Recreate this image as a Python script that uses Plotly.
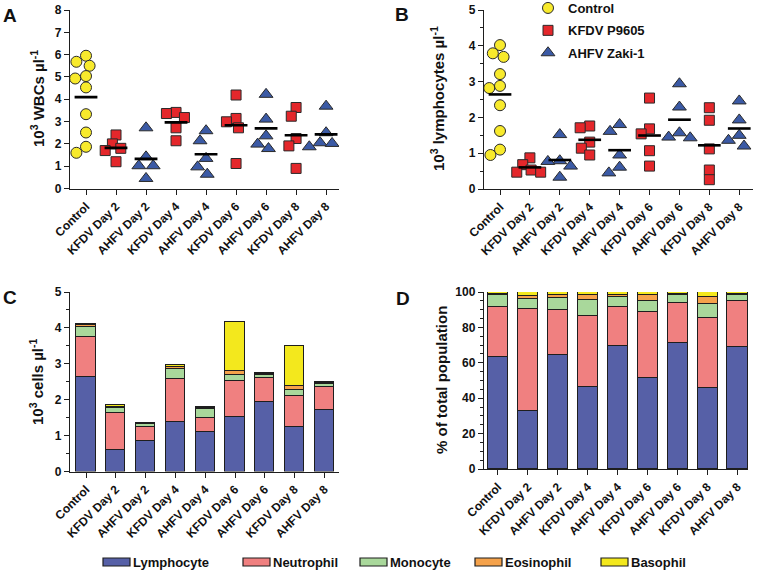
import numpy as np
import plotly.graph_objects as go

# ---------------- data ----------------
categories = ["Control", "KFDV Day 2", "AHFV Day 2", "KFDV Day 4", "AHFV Day 4",
              "KFDV Day 6", "AHFV Day 6", "KFDV Day 8", "AHFV Day 8"]
group_names = ["Control", "KFDV P9605", "AHFV Zaki-1"]
category_group = [0, 1, 2, 1, 2, 1, 2, 1, 2]

# Panel A: 10^3 WBCs per µl
wbc_values = [
    [5.95, 5.68, 5.50, 5.04, 4.93, 4.53, 3.33, 2.51, 1.87, 1.60],
    [2.40, 2.00, 1.80, 1.70, 1.20],
    [2.72, 1.42, 1.02, 1.02, 0.45],
    [3.41, 3.36, 3.18, 2.72, 2.14],
    [2.59, 2.14, 1.35, 0.97, 0.64],
    [4.19, 3.14, 2.99, 2.72, 1.12],
    [4.22, 3.11, 2.36, 1.99, 1.79],
    [3.63, 3.24, 2.24, 1.91, 0.90],
    [3.69, 2.50, 2.05, 2.02, 1.87],
]

# Panel B: 10^3 lymphocytes per µl
lym_values = [
    [4.02, 3.79, 3.69, 3.21, 2.88, 2.82, 2.34, 1.62, 1.10, 0.95],
    [0.87, 0.68, 0.53, 0.47, 0.47],
    [1.52, 0.79, 0.77, 0.64, 0.33],
    [1.76, 1.71, 1.31, 1.14, 0.95],
    [1.80, 1.61, 0.95, 0.61, 0.45],
    [2.54, 1.68, 1.54, 1.07, 0.64],
    [2.94, 2.29, 1.57, 1.45, 1.43],
    [2.27, 1.92, 1.12, 0.53, 0.26],
    [2.46, 1.93, 1.50, 1.36, 1.20],
]

# Panel C: mean cell counts (10^3 cells per µl)
cell_types = ["Lymphocyte", "Neutrophil", "Monocyte", "Eosinophil", "Basophil"]
counts_lymphocyte = [2.645, 0.60, 0.855, 1.39, 1.11, 1.51, 1.95, 1.23, 1.70]
counts_neutrophil = [1.115, 1.04, 0.395, 1.18, 0.37, 1.02, 0.65, 0.88, 0.65]
counts_monocyte = [0.26, 0.12, 0.07, 0.28, 0.26, 0.16, 0.09, 0.16, 0.08]
counts_eosinophil = [0.05, 0.05, 0.025, 0.07, 0.02, 0.12, 0.03, 0.10, 0.03]
counts_basophil = [0.05, 0.03, 0.015, 0.05, 0.03, 1.35, 0.03, 1.12, 0.03]

# Panel D: % of total population
pct_lymphocyte = [63.5, 33.0, 64.4, 46.1, 69.5, 51.6, 71.0, 45.6, 69.1]
pct_neutrophil = [28.0, 57.2, 25.4, 40.3, 21.8, 37.3, 22.6, 39.9, 26.0]
pct_monocyte = [6.8, 6.0, 6.6, 9.1, 5.7, 6.2, 4.7, 7.5, 3.2]
pct_eosinophil = [0.8, 1.7, 1.7, 2.8, 1.3, 3.2, 0.6, 4.0, 0.8]
pct_basophil = [0.9, 2.1, 1.9, 1.7, 1.7, 1.7, 1.1, 3.0, 0.9]

# ---------------- style ----------------
W, H = 758, 573
FONT = "Arial, Liberation Sans, sans-serif"
INK = "#1e1e1e"
group_colors = ["#F8EA2C", "#E4272B", "#3B5AA5"]
group_symbols = ["circle", "square", "triangle-up"]
group_sizes = [11, 10, 12]
cell_colors = ["#5660A7", "#F08080", "#A9D89B", "#F5A24B", "#F3E81D"]


def px_x(p):
    return p / W


def px_y(p):
    return 1 - p / H


def swarm(vals, px_per_unit, cat_px=30.0, diam=10.0, step=0.04):
    """Deterministic beeswarm offsets (category units) so markers don't overlap."""
    placed = []
    offs = []
    cands = [0.0]
    for k in range(1, 30):
        cands += [-k * step, k * step]
    for v in vals:
        for c in cands:
            ok = all(np.hypot((c - po) * cat_px, (v - pv) * px_per_unit) >= diam
                     for po, pv in placed)
            if ok:
                break
        placed.append((c, v))
        offs.append(c)
    return offs


fig = go.Figure()

panels = [
    dict(vals=wbc_values, xa="x", ya="y", ppu=178.5 / 8, legend=False),
    dict(vals=lym_values, xa="x2", ya="y2", ppu=179.0 / 5, legend=True),
]

for p in panels:
    shown = set()
    for ci, vals in enumerate(p["vals"]):
        g = category_group[ci]
        offs = swarm(vals, p["ppu"], diam=group_sizes[g] * 0.95)
        xs = [ci + o for o in offs]
        fig.add_trace(go.Scatter(
            x=xs, y=vals, mode="markers", xaxis=p["xa"], yaxis=p["ya"],
            name=group_names[g], legendgroup=group_names[g],
            showlegend=p["legend"] and g not in shown,
            marker=dict(symbol=group_symbols[g], size=group_sizes[g],
                        color=group_colors[g], line=dict(color="#2a2a2a", width=1)),
            hoverinfo="skip"))
        shown.add(g)
    # mean lines
    mx, my = [], []
    for ci, vals in enumerate(p["vals"]):
        m = float(np.mean(vals))
        mx += [ci - 0.38, ci + 0.38, None]
        my += [m, m, None]
    fig.add_trace(go.Scatter(x=mx, y=my, mode="lines", xaxis=p["xa"], yaxis=p["ya"],
                             line=dict(color="#000", width=2.6), showlegend=False,
                             hoverinfo="skip"))

count_series = [counts_lymphocyte, counts_neutrophil, counts_monocyte,
                counts_eosinophil, counts_basophil]
pct_series = [pct_lymphocyte, pct_neutrophil, pct_monocyte, pct_eosinophil, pct_basophil]
xcat = list(range(len(categories)))
for k, name in enumerate(cell_types):
    fig.add_trace(go.Bar(x=xcat, y=count_series[k], xaxis="x3", yaxis="y3", width=0.64,
                         marker=dict(color=cell_colors[k], line=dict(color=INK, width=1.2)),
                         name=name, showlegend=False, hoverinfo="skip"))
    fig.add_trace(go.Bar(x=xcat, y=pct_series[k], xaxis="x4", yaxis="y4", width=0.67,
                         marker=dict(color=cell_colors[k], line=dict(color=INK, width=1.2)),
                         name=name, showlegend=False, hoverinfo="skip"))

tickfont = dict(family=FONT, size=12, color="#111", weight="bold")
common_x = dict(showline=True, linecolor=INK, linewidth=1.4, ticks="outside", ticklen=5,
                tickwidth=1.4, tickcolor=INK, showgrid=False, zeroline=False,
                tickmode="array", tickvals=xcat, ticktext=categories, tickangle=-45,
                tickfont=tickfont, fixedrange=True, automargin=False)
common_y = dict(showline=True, linecolor=INK, linewidth=1.4, ticks="outside", ticklen=5,
                tickwidth=1.4, tickcolor=INK, showgrid=False, zeroline=False,
                tickfont=tickfont, fixedrange=True, automargin=False)

fig.update_layout(
    template="none",
    xaxis=dict(common_x, domain=[px_x(70), px_x(339)], range=[-0.533, 8.43], anchor="y"),
    yaxis=dict(common_y, domain=[px_y(188.5), px_y(10)], range=[0, 8], dtick=1, anchor="x"),
    xaxis2=dict(common_x, domain=[px_x(484), px_x(753)], range=[-0.535, 8.46], anchor="y2"),
    yaxis2=dict(common_y, domain=[px_y(189), px_y(10)], range=[0, 5], dtick=1, anchor="x2",
                minor=dict(dtick=0.5, ticklen=3, tickwidth=1.4, tickcolor=INK, ticks="outside")),
    xaxis3=dict(common_x, domain=[px_x(70), px_x(339)], range=[-0.537, 8.49], anchor="y3"),
    yaxis3=dict(common_y, domain=[px_y(471.5), px_y(292)], range=[0, 5], dtick=1, anchor="x3",
                minor=dict(dtick=0.5, ticklen=3, tickwidth=1.4, tickcolor=INK, ticks="outside")),
    xaxis4=dict(common_x, domain=[px_x(484), px_x(748)], range=[-0.467, 8.35], anchor="y4"),
    yaxis4=dict(common_y, domain=[px_y(469), px_y(292)], range=[0, 100], dtick=20, anchor="x4",
                minor=dict(dtick=5, ticklen=3, tickwidth=1.4, tickcolor=INK, ticks="outside")),
    barmode="stack",
    bargap=0,
    width=W, height=H, autosize=False,
    margin=dict(l=0, r=0, t=0, b=0, autoexpand=False),
    paper_bgcolor="white", plot_bgcolor="white",
    legend=dict(x=px_x(528), y=px_y(-7), xanchor="left", yanchor="top",
                font=dict(family=FONT, size=13, color="#111", weight="bold"),
                bgcolor="rgba(0,0,0,0)", borderwidth=0, tracegroupgap=2.5, itemclick=False),
    showlegend=True,
)

annots = []
# panel letters
for letter, (lx, ly) in zip("ABCD", [(10, 16), (402, 15), (10, 297), (403, 298)]):
    annots.append(dict(text=letter, x=px_x(lx), y=px_y(ly), xref="paper", yref="paper",
                       showarrow=False, xanchor="center", yanchor="middle",
                       font=dict(family=FONT, size=19, color="#111", weight="bold")))
# axis titles
titles = [("10<sup>3</sup> WBCs µl<sup>-1</sup>", 37, 99),
          ("10<sup>3</sup> lymphocytes µl<sup>-1</sup>", 437, 99),
          ("10<sup>3</sup> cells µl<sup>-1</sup>", 36, 382),
          ("% of total population", 441, 380)]
for t, tx, ty in titles:
    annots.append(dict(text=t, x=px_x(tx), y=px_y(ty), xref="paper", yref="paper",
                       showarrow=False, textangle=-90, xanchor="center", yanchor="middle",
                       font=dict(family=FONT, size=15, color="#111", weight="bold")))
# bottom legend for cell types
shapes = []
legend_x = [103, 243, 360, 475, 601]
for k, name in enumerate(cell_types):
    x0 = legend_x[k]
    shapes.append(dict(type="rect", xref="paper", yref="paper",
                       x0=px_x(x0), x1=px_x(x0 + 27), y0=px_y(566), y1=px_y(558),
                       fillcolor=cell_colors[k], line=dict(color=INK, width=1.2)))
    annots.append(dict(text=name, x=px_x(x0 + 28), y=px_y(562), xref="paper", yref="paper",
                       showarrow=False, xanchor="left", yanchor="middle",
                       font=dict(family=FONT, size=13, color="#111", weight="bold")))

fig.update_layout(annotations=annots, shapes=shapes)
fig.write_html("out.html", config={"displayModeBar": False},
               post_script="document.body.style.margin='0px';document.body.style.padding='0px';")
